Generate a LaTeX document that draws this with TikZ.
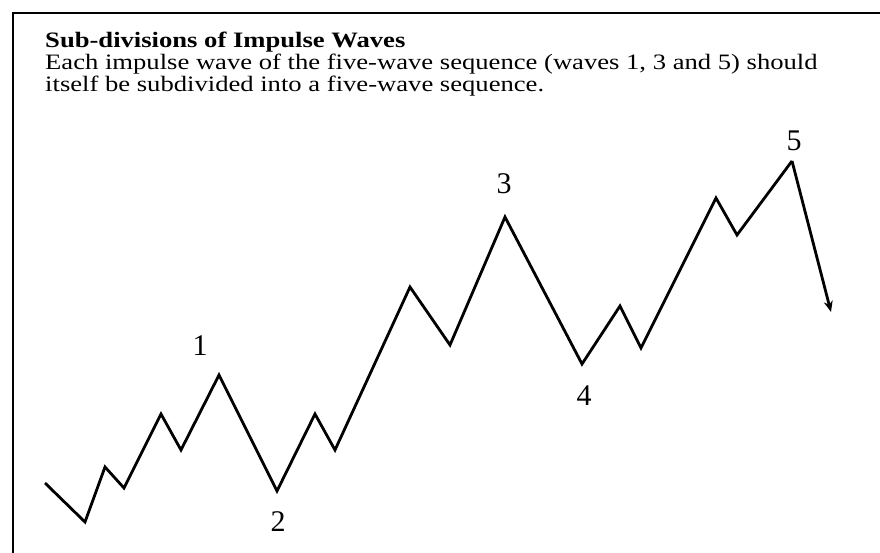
\documentclass[tikz,border=0pt]{standalone}
\usepackage{fontspec}
\setmainfont{Liberation Serif}[FakeStretch=1.21]
\newfontfamily\labelfont{Liberation Serif}
\usetikzlibrary{arrows.meta}
\tikzset{
  txt/.style={anchor=base west, inner sep=0pt, font=\fontsize{22}{26}\selectfont},
  wavelab/.style={inner sep=0pt, font=\labelfont\fontsize{30}{32}\selectfont},
  waveline/.style={line width=2.8pt, line join=miter, black},
  frameline/.style={line width=2pt, black}
}
\begin{document}
\begin{tikzpicture}[x=1pt,y=-1pt]
\useasboundingbox (0,0) rectangle (880,553);
\fill[white] (0,0) rectangle (880,553);
% frame
\coordinate (fTL) at (13,13);
\coordinate (fTR) at (880,13);
\coordinate (fBL) at (13,553);
\draw[frameline] (fTR) -- (fTL) -- (fBL);
% texts
\node[txt] (title) at (45,48) {\bfseries Sub-divisions of Impulse Waves};
\node[txt] (l1) at (45,70) {Each impulse wave of the five-wave sequence (waves 1, 3 and 5) should};
\node[txt] (l2) at (45,92) {itself be subdivided into a five-wave sequence.};
% wave vertices
\coordinate (p0) at (45,483);
\coordinate (p1) at (85,522);
\coordinate (p2) at (105,467);
\coordinate (p3) at (124,488);
\coordinate (p4) at (161,414);
\coordinate (p5) at (181,450);
\coordinate (w1) at (219,375);
\coordinate (w2) at (277,491);
\coordinate (p8) at (315,414);
\coordinate (p9) at (335,450);
\coordinate (p10) at (410,287);
\coordinate (p11) at (450,345);
\coordinate (w3) at (505,217);
\coordinate (w4) at (582,364);
\coordinate (p14) at (620,306);
\coordinate (p15) at (641,348);
\coordinate (p16) at (716,198);
\coordinate (p17) at (737,235);
\coordinate (w5) at (792,161);
\coordinate (wend) at (831,312);
\draw[waveline] (p0) -- (p1) -- (p2) -- (p3) -- (p4) -- (p5) -- (w1) -- (w2) -- (p8) -- (p9) -- (p10) -- (p11) -- (w3) -- (w4) -- (p14) -- (p15) -- (p16) -- (p17) -- (w5);
\draw[waveline, -{Stealth[length=11pt,width=9pt]}] (w5) -- (wend);
% labels
\node[wavelab] (n1) at (200,346) {1};
\node[wavelab] (n2) at (278,522) {2};
\node[wavelab] (n3) at (504,184) {3};
\node[wavelab] (n4) at (584,396) {4};
\node[wavelab] (n5) at (794,141) {5};
\end{tikzpicture}
\end{document}
